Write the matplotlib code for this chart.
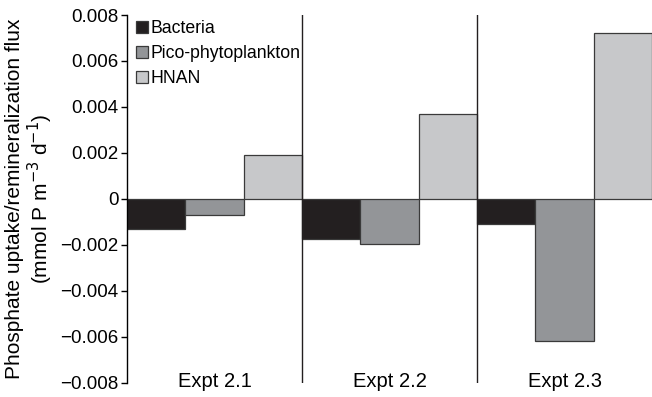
import matplotlib
matplotlib.use("Agg")
import matplotlib.pyplot as plt
import numpy as np

plt.rcParams['font.family'] = ['Liberation Sans', 'DejaVu Sans']

experiments = ["Expt 2.1", "Expt 2.2", "Expt 2.3"]
groups = ["Bacteria", "Pico-phytoplankton", "HNAN"]
bacteria = [-0.0013, -0.00175, -0.0011]
pico = [-0.0007, -0.00195, -0.0062]
hnan = [0.0019, 0.0037, 0.0072]
yticks = [-0.008, -0.006, -0.004, -0.002, 0, 0.002, 0.004, 0.006, 0.008]
ytick_labels = ["\u22120.008", "\u22120.006", "\u22120.004", "\u22120.002", "0",
                "0.002", "0.004", "0.006", "0.008"]

colors = ["#231f20", "#939598", "#c7c8ca"]
series = [bacteria, pico, hnan]

W, H = 652, 397
fig = plt.figure(figsize=(W / 100, H / 100), dpi=100)
ax_left, ax_top, ax_bottom = 127, 15, 382.7
ax = fig.add_axes([ax_left / W, 1 - ax_bottom / H, (W - ax_left) / W, (ax_bottom - ax_top) / H])

n = len(experiments)
w = 1 / len(series)
for j, (vals, col, name) in enumerate(zip(series, colors, groups)):
    xs = np.arange(n) + (j + 0.5) * w
    ax.bar(xs, vals, width=w, color=col, edgecolor="#3a3a3a", linewidth=0.9,
           label=name, zorder=2)

for sep in range(1, n):
    ax.axvline(sep, color="#231f20", linewidth=1.0, zorder=3)

ax.set_xlim(0, n)
ax.set_ylim(-0.008, 0.008)
ax.set_yticks(yticks)
ax.set_yticklabels(ytick_labels)
ax.set_xticks(np.arange(n) + 0.5)
ax.set_xticklabels(experiments)
ax.tick_params(axis="x", length=0, pad=-8, labelsize=14.5)
ax.tick_params(axis="y", direction="out", length=4.5, width=1, pad=1.5, labelsize=13.5)

for s in ["top", "right", "bottom"]:
    ax.spines[s].set_visible(False)
ax.spines["left"].set_linewidth(1.0)

ax.set_ylabel("Phosphate uptake/remineralization flux\n(mmol P m$^{-3}$ d$^{-1}$)",
              fontsize=15, linespacing=1.1)
ax.yaxis.set_label_coords((55 - ax_left) / (W - ax_left), 0.5)

ax.legend(loc="upper left", bbox_to_anchor=(4 / (W - ax_left), 1.0), frameon=False,
          fontsize=12.7, handlelength=0.65, handleheight=0.65,
          handletextpad=0.15, labelspacing=0.45, borderaxespad=0.0, borderpad=0.3)

fig.savefig("out.png", dpi=100)
